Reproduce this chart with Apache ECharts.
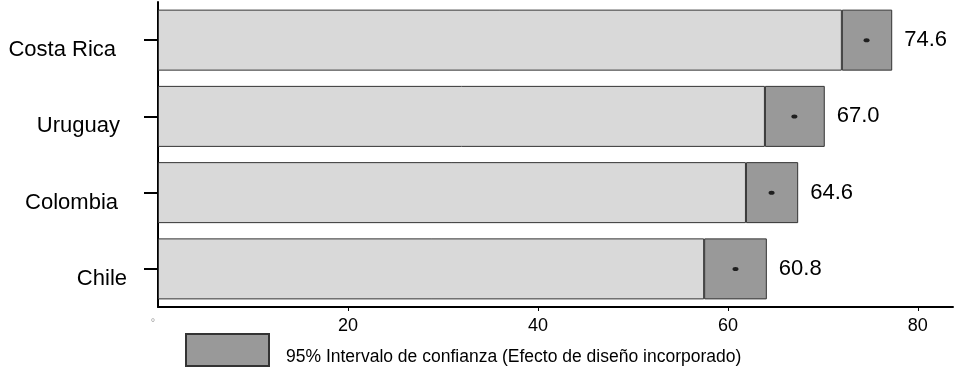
<!DOCTYPE html>
<html>
<head>
<meta charset="utf-8">
<script src="https://cdn.jsdelivr.net/npm/echarts@6/dist/echarts.min.js"></script>
<style>
  html, body { margin: 0; padding: 0; background: #fff; }
  #chart { width: 955px; height: 368px; }
</style>
</head>
<body>
<div id="chart"></div>
<script>
// ---- Data ----
const countries = ['Costa Rica', 'Uruguay', 'Colombia', 'Chile'];
const estimates = [74.6, 67.0, 64.6, 60.8];
const ciLower = [72.0, 63.9, 61.9, 57.5];
const ciUpper = [77.3, 70.2, 67.4, 64.1];
const xTickValues = [0, 20, 40, 60, 80];
const legendName = '95% Intervalo de confianza (Efecto de diseño incorporado)';

// ---- Build option ----
const ciWidth = ciUpper.map((u, i) => +(u - ciLower[i]).toFixed(2));
const labelPadRight = [11, 7, 9, 0];
const font = '"Liberation Sans", Arial, sans-serif';

const chart = echarts.init(document.getElementById('chart'), null, { renderer: 'canvas' });
chart.setOption({
  animation: false,
  backgroundColor: '#ffffff',
  textStyle: { fontFamily: font, color: '#000' },
  grid: { left: 158, right: 2, top: 2, bottom: 61, containLabel: false },
  legend: {
    left: 180, top: 328,
    itemWidth: 83, itemHeight: 32, itemGap: 10,
    data: [legendName],
    icon: 'rect',
    formatter: name => '\n' + name,
    textStyle: { fontFamily: font, fontSize: 17.5, lineHeight: 14, color: '#000', padding: [0, 0, 0, 12] }
  },
  xAxis: {
    type: 'value', min: 0, max: 83.7,
    axisLine: { show: true, lineStyle: { color: '#000', width: 2 } },
    axisTick: { show: true, customValues: [20, 40, 60, 80], length: 4, lineStyle: { color: '#000', width: 1 } },
    axisLabel: {
      customValues: xTickValues,
      margin: 10,
      fontFamily: font, fontSize: 18, color: '#000',
      formatter: v => v === 0 ? '{z|°}' : String(v),
      rich: { z: { fontFamily: font, fontSize: 11, color: '#9a9a9a', padding: [0, 10, 0, 0] } }
    },
    splitLine: { show: false }
  },
  yAxis: {
    type: 'category', inverse: true,
    data: countries.map((c, i) => ({
      value: c,
      textStyle: { padding: [0, labelPadRight[i], 0, 0] }
    })),
    axisLine: { show: true, lineStyle: { color: '#000', width: 2 } },
    axisTick: { show: true, alignWithLabel: true, length: 14, lineStyle: { color: '#000', width: 2 } },
    axisLabel: {
      margin: 31, lineHeight: 20, fontFamily: font, fontSize: 22, color: '#000',
      formatter: v => '\n' + v
    }
  },
  series: [
    {
      name: 'base', type: 'bar', stack: 'ci', barCategoryGap: '20%',
      data: ciLower,
      itemStyle: { color: '#d9d9d9', borderColor: '#333', borderWidth: 1 },
      emphasis: { disabled: true }
    },
    {
      name: legendName, type: 'bar', stack: 'ci',
      data: ciWidth,
      itemStyle: { color: '#999999', borderColor: '#333', borderWidth: 1 },
      label: {
        show: true, position: 'right', distance: 12,
        fontFamily: font, fontSize: 22, color: '#000',
        formatter: p => estimates[p.dataIndex].toFixed(1)
      },
      emphasis: { disabled: true }
    },
    {
      name: 'estimate', type: 'scatter',
      data: estimates,
      symbol: 'circle', symbolSize: [6, 4],
      itemStyle: { color: '#000' },
      z: 5
    }
  ]
});
</script>
</body>
</html>
